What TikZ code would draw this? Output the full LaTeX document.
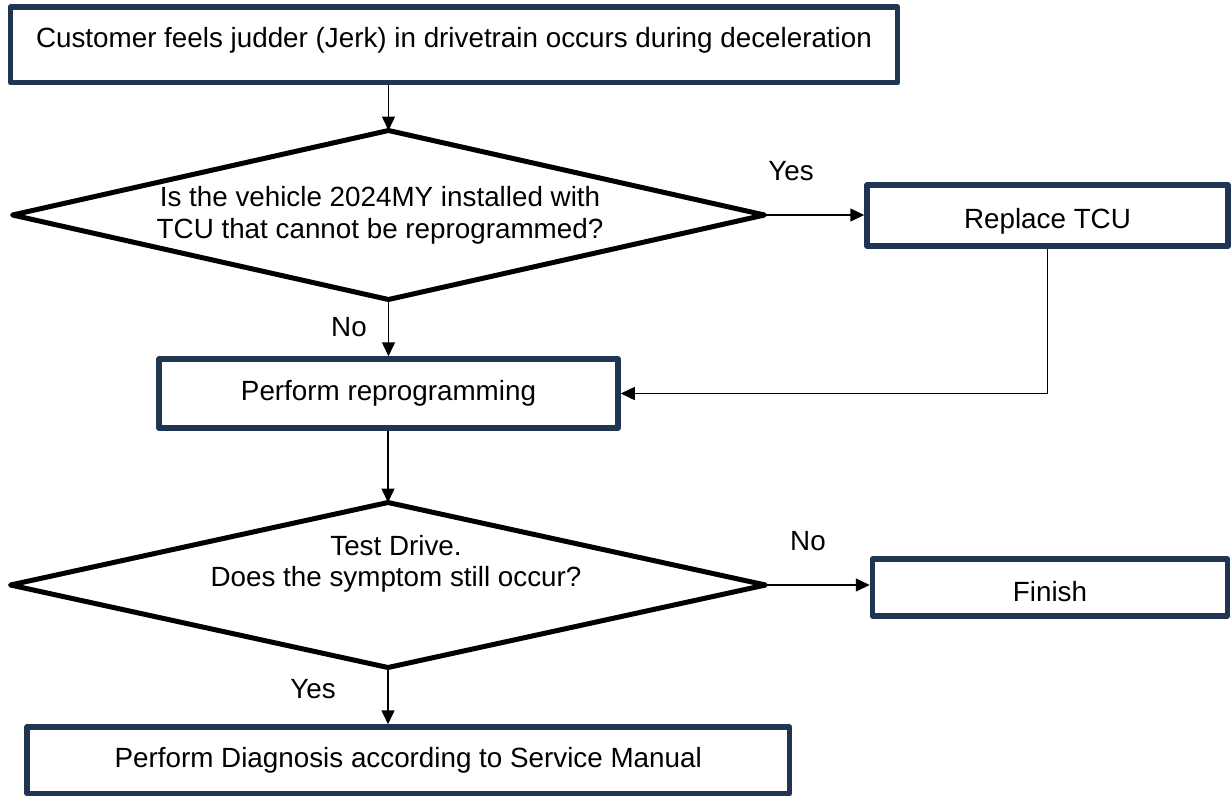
\documentclass[tikz,border=0pt]{standalone}
\usepackage{fontspec}
\setmainfont{Liberation Sans}
\usetikzlibrary{shapes.geometric,arrows.meta}
\definecolor{boxnavy}{HTML}{1F3551}
\tikzset{
  box/.style={draw=boxnavy, line width=5.5pt, line join=round, fill=white,
    inner sep=0pt, text height=20pt, text depth=6pt},
  decision/.style={draw=black, line width=5pt, line join=round, diamond,
    inner sep=0pt, outer sep=0pt},
  flowarrow/.style={-{Triangle[length=14pt, width=13pt]}, line width=1.5pt},
  answer/.style={anchor=base, inner sep=0pt}
}
\begin{document}
\begin{tikzpicture}[x=1pt, y=-1pt, font=\fontsize{27.8}{31.5}\selectfont]
        \useasboundingbox (0,0) rectangle (1231,796);

        \node[box, minimum width=887pt, minimum height=75.5pt, text height=20pt, text depth=15.5pt] (start) at (454, 44.75) {Customer feels judder (Jerk) in drivetrain occurs during deceleration};

        \node[decision, minimum width=752pt, minimum height=169pt] (tcu-check) at (388.5, 215) {};
        \node[align=center] (tcu-text) at (380, 215.3) {Is the vehicle 2024MY installed with\\TCU that cannot be reprogrammed?};

        \node[box, minimum width=361pt, minimum height=61pt, text height=25pt, text depth=0pt] (replace) at (1047.5, 215.5) {Replace TCU};

        \node[box, minimum width=459pt, minimum height=69pt, text height=20pt, text depth=5.6pt] (reprog) at (388.5, 393.5) {Perform reprogramming};

        \node[decision, minimum width=755pt, minimum height=165pt] (test-drive) at (388, 585) {};
        \node[align=center] (test-text) at (396, 564) {Test Drive.\\Does the symptom still occur?};

        \node[box, minimum width=355pt, minimum height=57pt, text height=28.6pt, text depth=0pt] (finish) at (1050, 587.5) {Finish};

        \node[box, minimum width=762.5pt, minimum height=66.5pt] (diagnosis) at (408.25, 760.25) {Perform Diagnosis according to Service Manual};

        \draw[flowarrow] (tcu-check.north |- start.south) -- (tcu-check.north);
        \draw[flowarrow] (tcu-check.east) -- (tcu-check.east -| replace.west);
        \draw[flowarrow] (tcu-check.south) -- (reprog.north);
        \draw[flowarrow] (replace.south) |- (reprog.east);
        \draw[flowarrow] (test-drive.north |- reprog.south) -- (test-drive.north);
        \draw[flowarrow] (test-drive.east) -- (test-drive.east -| finish.west);
        \draw[flowarrow] (test-drive.south) -- (test-drive.south |- diagnosis.north);

        \node[answer] (yes-replace) at (791, 180) {Yes};
        \node[answer] (no-reprog) at (349, 336) {No};
        \node[answer] (no-finish) at (808, 550) {No};
        \node[answer] (yes-diag) at (313, 698) {Yes};

    \end{tikzpicture}
\end{document}
